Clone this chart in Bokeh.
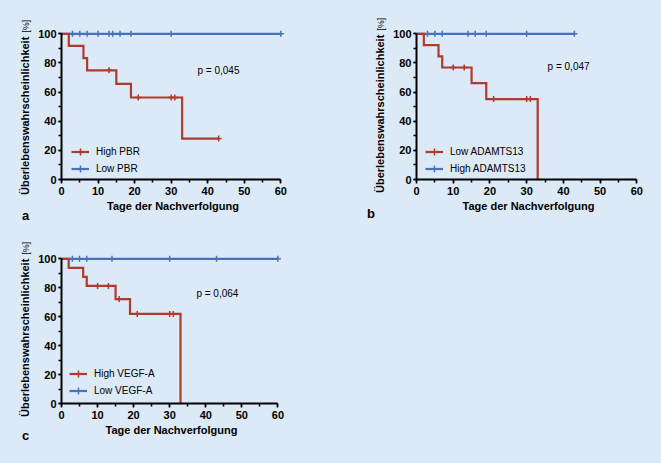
from bokeh.plotting import figure
from bokeh.layouts import column, row
from bokeh.models import Range1d, SingleIntervalTicker, Label, Legend, LegendItem, Div
from bokeh.embed import file_html
from bokeh.resources import INLINE

BG = "#dce9f6"
RED = "#b03a2e"
BLUE = "#4872ba"
FONT = "Liberation Sans"

# Panel a: PBR
a_red_t = [0, 2, 6, 7, 15, 19, 33, 43]
a_red_s = [100, 91.7, 83.3, 75.0, 65.6, 56.3, 28.1, 28.1]
a_red_cens_t = [13, 21, 30, 31, 43]
a_red_cens_s = [75.0, 56.3, 56.3, 56.3, 28.1]
a_blue_t = [0, 60]
a_blue_s = [100, 100]
a_blue_cens_t = [3, 5, 7, 10, 13, 14, 16, 19, 30, 60]
a_blue_cens_s = [100, 100, 100, 100, 100, 100, 100, 100, 100, 100]

# Panel b: ADAMTS13
b_red_t = [0, 2, 6, 7, 15, 19, 33]
b_red_s = [100, 92.3, 84.6, 76.9, 66.2, 55.2, 0]
b_red_cens_t = [10, 13, 21, 30, 31]
b_red_cens_s = [76.9, 76.9, 55.2, 55.2, 55.2]
b_blue_t = [0, 43]
b_blue_s = [100, 100]
b_blue_cens_t = [3, 5, 7, 14, 16, 19, 30, 43]
b_blue_cens_s = [100, 100, 100, 100, 100, 100, 100, 100]

# Panel c: VEGF-A
c_red_t = [0, 2, 6, 7, 15, 19, 33]
c_red_s = [100, 93.8, 87.5, 81.3, 72.2, 61.9, 0]
c_red_cens_t = [10, 13, 16, 21, 30, 31]
c_red_cens_s = [81.3, 81.3, 72.2, 61.9, 61.9, 61.9]
c_blue_t = [0, 60]
c_blue_s = [100, 100]
c_blue_cens_t = [3, 5, 7, 14, 30, 43, 60]
c_blue_cens_s = [100, 100, 100, 100, 100, 100, 100]

Y_LABEL = "Überlebenswahrscheinlichkeit"


def label_strip(width, height, x_center, y_bottom, letter, letter_left, letter_base):
    # rotated y label (bold + normal "[%]") and the panel letter, as plain html
    font = "font-family:'Liberation Sans',Arial,sans-serif;color:black;"
    html = (
        f'<div style="position:relative;width:{width}px;height:{height}px;">'
        f'<div style="position:absolute;left:{x_center - 5.5}px;top:{y_bottom}px;'
        f'transform-origin:0 0;transform:rotate(-90deg);white-space:nowrap;{font}'
        f'font-weight:bold;font-size:11px;line-height:11px;">{Y_LABEL}'
        f'<span style="font-weight:normal;font-size:9px;margin-left:4px;">[%]</span></div>'
        f'<div style="position:absolute;left:{letter_left}px;top:{letter_base - 11}px;{font}'
        f'font-weight:bold;font-size:13px;line-height:13px;">{letter}</div>'
        '</div>'
    )
    return Div(text=html, width=width, height=height, margin=0)


def km_panel(red, blue, names, p_text, p_xy, size, border, legend_xy):
    w, h = size
    left, right, top, bottom = border
    p = figure(width=w, height=h,
               min_border_left=left, min_border_right=right,
               min_border_top=top, min_border_bottom=bottom,
               x_range=Range1d(0, 61), y_range=Range1d(0, 103),
               output_backend="svg", toolbar_location=None,
               background_fill_color=BG, border_fill_color=BG,
               outline_line_color=None)
    p.grid.visible = False

    bt, bs, bct, bcs = blue
    rt, rs, rct, rcs = red
    b_line = p.step(bt, bs, mode="after", line_color=BLUE, line_width=2.2, line_join="miter")
    b_cens = p.scatter(bct, bcs, marker="cross", size=6, line_color=BLUE, line_width=1.5)
    r_line = p.step(rt, rs, mode="after", line_color=RED, line_width=2.2, line_join="miter")
    r_cens = p.scatter(rct, rcs, marker="cross", size=6, line_color=RED, line_width=1.5)

    for ax in (p.xaxis[0], p.yaxis[0]):
        ax.axis_line_width = 2
        ax.axis_line_color = "black"
        ax.major_tick_line_width = 1.5
        ax.minor_tick_line_width = 1.5
        ax.major_tick_line_color = "black"
        ax.minor_tick_line_color = "black"
        ax.major_tick_in = 0
        ax.minor_tick_in = 0
        ax.major_label_text_font = FONT
        ax.major_label_text_font_style = "bold"
        ax.major_label_text_font_size = "11px"
        ax.major_label_text_color = "black"

    p.xaxis.ticker = SingleIntervalTicker(interval=10, num_minor_ticks=2)
    p.yaxis.ticker = SingleIntervalTicker(interval=20, num_minor_ticks=2)
    p.xaxis.bounds = (0, 60)
    p.yaxis.bounds = (0, 100)
    p.xaxis.major_tick_out = 4
    p.xaxis.minor_tick_out = 3
    p.xaxis.major_label_standoff = 3
    p.yaxis.major_tick_out = 3
    p.yaxis.minor_tick_out = 3
    p.yaxis.major_label_standoff = 2

    p.xaxis.axis_label = "Tage der Nachverfolgung"
    p.xaxis.axis_label_text_font = FONT
    p.xaxis.axis_label_text_font_style = "bold"
    p.xaxis.axis_label_text_font_size = "11px"
    p.xaxis.axis_label_text_color = "black"
    p.xaxis.axis_label_standoff = 2

    p.add_layout(Label(x=p_xy[0], y=p_xy[1], text=p_text,
                       text_align="left", text_baseline="middle",
                       text_font=FONT, text_font_size="10px", text_color="black"))

    legend = Legend(items=[LegendItem(label=names[0], renderers=[r_line, r_cens]),
                           LegendItem(label=names[1], renderers=[b_line, b_cens])],
                    location=legend_xy, padding=0, margin=0, spacing=0,
                    glyph_width=18, glyph_height=17, label_height=17,
                    label_standoff=7, background_fill_alpha=0, border_line_alpha=0,
                    label_text_font=FONT, label_text_font_size="10px",
                    label_text_color="black")
    p.add_layout(legend)
    return p


sa = label_strip(34, 220, 25, 195, "a", 22, 220)
pa = km_panel((a_red_t, a_red_s, a_red_cens_t, a_red_cens_s),
              (a_blue_t, a_blue_s, a_blue_cens_t, a_blue_cens_s),
              ("High PBR", "Low PBR"), "p = 0,045", (37.2, 75),
              (296, 220), (27, 46, 29, 40), (10, 2))

sb = label_strip(60, 220, 50, 193, "b", 37, 218)
pb = km_panel((b_red_t, b_red_s, b_red_cens_t, b_red_cens_s),
              (b_blue_t, b_blue_s, b_blue_cens_t, b_blue_cens_s),
              ("Low ADAMTS13", "High ADAMTS13"), "p = 0,047", (35.7, 77.8),
              (271, 220), (26, 21, 28, 41), (9, 2))

sc = label_strip(34, 243, 25, 197, "c", 22, 220)
pc = km_panel((c_red_t, c_red_s, c_red_cens_t, c_red_cens_s),
              (c_blue_t, c_blue_s, c_blue_cens_t, c_blue_cens_s),
              ("High VEGF-A", "Low VEGF-A"), "p = 0,064", (37.4, 76.2),
              (627, 243), (27, 380, 34, 60), (8, 4))

layout = column(row(sa, pa, sb, pb), row(sc, pc),
                styles={"background-color": BG})

open("out.html", "w").write(file_html(layout, INLINE))
